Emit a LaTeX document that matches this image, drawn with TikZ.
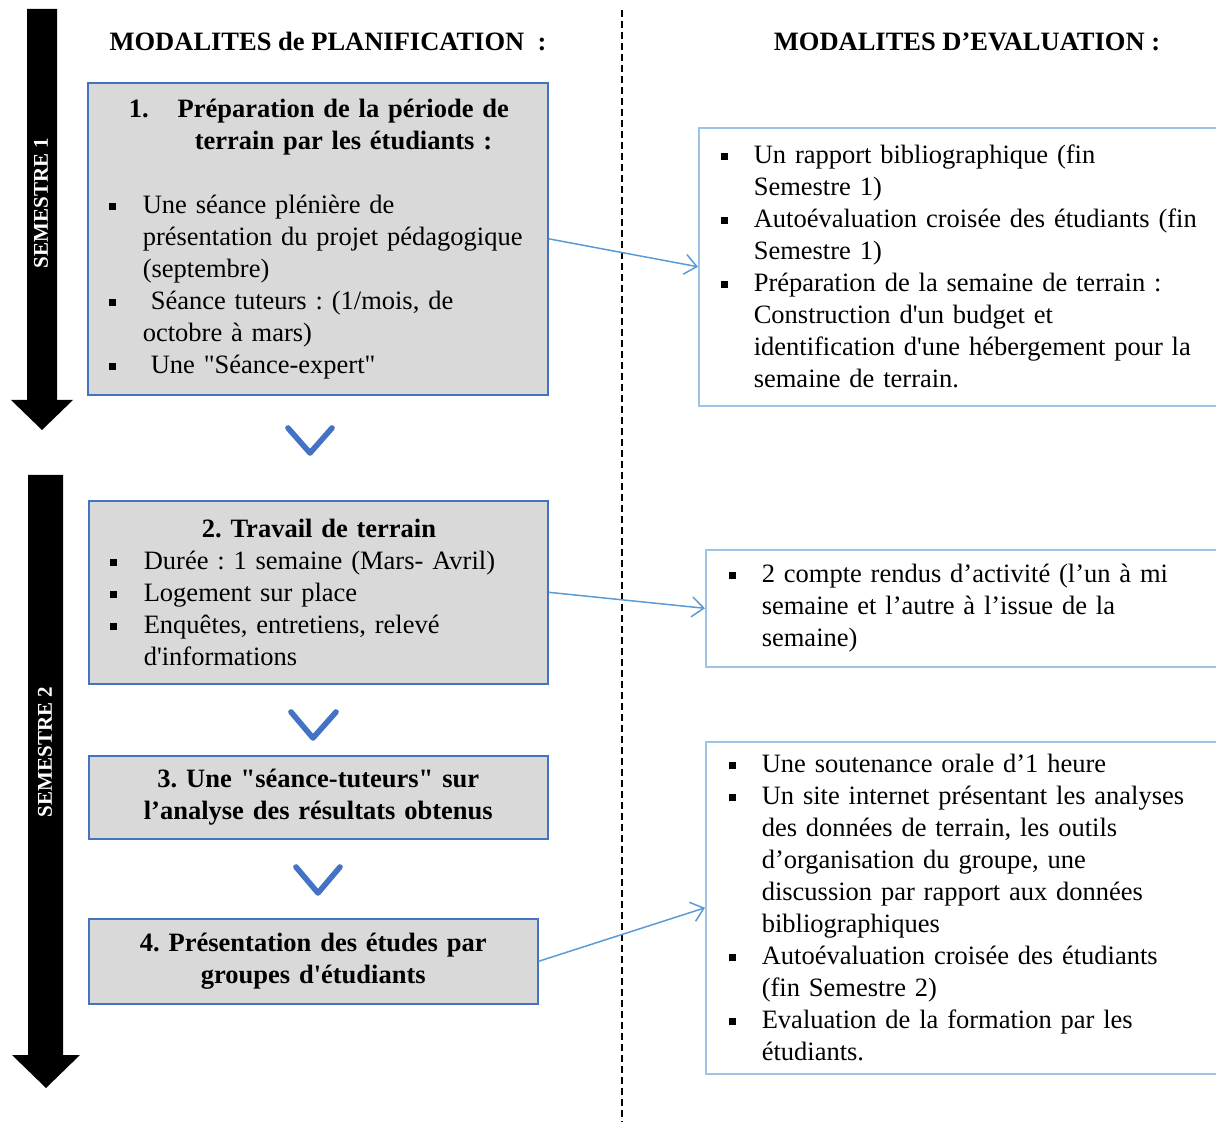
\documentclass[tikz,border=0pt]{standalone}
\usepackage{fontspec}
\setmainfont{Liberation Serif}[Ligatures=TeXOff]
\usetikzlibrary{arrows.meta, positioning, calc}

\definecolor{boxblue}{HTML}{4472C4}
\definecolor{boxgray}{HTML}{D9D9D9}
\definecolor{evalblue}{HTML}{9DC3E6}
\definecolor{linkblue}{HTML}{5B9BD5}

\newcommand{\blt}{\makebox[17pt][l]{\rule[0.13em]{3.6pt}{3.6pt}}}
\newcommand{\ind}{\hspace*{17pt}}
\newcommand{\bltr}{\makebox[16.5pt][l]{\rule[0.13em]{3.6pt}{3.6pt}}}
\newcommand{\indr}{\hspace*{16.5pt}}
\frenchspacing

\begin{document}
\begin{tikzpicture}[
  x=0.5pt, y=-0.5pt,
  every node/.style={font=\fontsize{13.25}{16}\selectfont},
  head/.style={font=\fontsize{13.25}{16}\selectfont\bfseries},
  plan/.style={draw=boxblue, line width=0.8pt, fill=boxgray, inner xsep=10.5pt, inner ysep=2pt, align=left, anchor=north west},
  eval/.style={draw=evalblue, line width=0.8pt, fill=white, inner ysep=2pt, align=left, anchor=north west},
  link/.style={draw=linkblue, line width=0.75pt, -{Straight Barb[length=6pt,width=10pt]}},
  chev/.style={draw=boxblue, line width=2.8pt, line cap=round, line join=round},
  sem/.style={rotate=90, text=white, font=\fontsize{10.5}{12}\selectfont\bfseries},
  sep/.style={draw, line width=0.9pt, dash pattern=on 3.5pt off 2pt}
  ]
  \useasboundingbox (0,0) rectangle (1216,1122);
  \clip (0,0) rectangle (1216,1122);

  % semesters
  \fill (27,9) -- (57,9) -- (57,400) -- (73,400) -- (42,430) -- (11,400) -- (27,400) -- cycle;
  \fill (28,475) -- (63,475) -- (63,1055) -- (80,1055) -- (46,1088) -- (12,1055) -- (28,1055) -- cycle;
  \node[sem] (sem1) at (41,203) {SEMESTRE 1};
  \node[sem] (sem2) at (45,752) {SEMESTRE 2};

  % column titles
  \node[head] (planif) at (328,42) {MODALITES de PLANIFICATION\ \ :};
  \node[head] (evaluation) at (967,42) {MODALITES D’EVALUATION :};
  \draw[sep] (622,10) -- (622,1122);

  % planning
  \node[plan, text width=209pt, minimum height=156pt] (prep) at (87,82) {%
    \hspace*{10pt}\textbf{1.}\hspace{14.5pt}\textbf{Préparation de la période de}\\
    \hspace*{43pt}\textbf{terrain par les étudiants :}\\[16pt]
    \blt Une séance plénière de\\
    \ind présentation du projet pédagogique\\
    \ind (septembre)\\
    \blt\hspace*{4pt}Séance tuteurs : (1/mois, de\\
    \ind octobre à mars)\\
    \blt\hspace*{4pt}Une "Séance-expert"};
  \node[plan, text width=208.5pt, minimum height=91.5pt] (terrain) at (88,500) {%
    \hspace*{46pt}\textbf{2. Travail de terrain}\\
    \blt Durée : 1 semaine (Mars- Avril)\\
    \blt Logement sur place\\
    \blt Enquêtes, entretiens, relevé\\
    \ind d'informations};
  \node[plan, align=center, text width=208.5pt, minimum height=41.5pt, head] (tuteurs) at (88,755)
    {3. Une "séance-tuteurs" sur\\ l’analyse des résultats obtenus};
  \node[plan, align=center, text width=203.5pt, minimum height=42.5pt, head] (presentation) at (88,918)
    {4. Présentation des études par\\ groupes d'étudiants};

  \draw[chev] (288,428) -- (310,453) -- (332,428);
  \draw[chev] (291,712) -- (313,738) -- (336,712);
  \draw[chev] (296,867) -- (318,893) -- (340,867);

  % evaluation
  \node[eval, inner xsep=11pt, text width=247pt, minimum height=139pt] (rapport) at (698,127) {%
    \bltr Un rapport bibliographique (fin\\
    \indr Semestre 1)\\
    \bltr Autoévaluation croisée des étudiants (fin\\
    \indr Semestre 1)\\
    \bltr Préparation de la semaine de terrain :\\
    \indr Construction d'un budget et\\
    \indr identification d'une hébergement pour la\\
    \indr semaine de terrain.};
  \node[eval, inner xsep=11.5pt, text width=242.5pt, minimum height=58.5pt] (comptes) at (705,549) {%
    \bltr 2 compte rendus d’activité (l’un à mi\\
    \indr semaine et l’autre à l’issue de la\\
    \indr semaine)};
  \node[eval, inner xsep=11.5pt, text width=242.5pt, minimum height=166pt] (soutenance) at (705,741) {%
    \bltr Une soutenance orale d’1 heure\\
    \bltr Un site internet présentant les analyses\\
    \indr des données de terrain, les outils\\
    \indr d’organisation du groupe, une\\
    \indr discussion par rapport aux données\\
    \indr bibliographiques\\
    \bltr Autoévaluation croisée des étudiants\\
    \indr (fin Semestre 2)\\
    \bltr Evaluation de la formation par les\\
    \indr étudiants.};

  \draw[link] (prep.east) -- (rapport.west);
  \draw[link] (terrain.east) -- (comptes.west);
  \draw[link] (presentation.east) -- (soutenance.west);
\end{tikzpicture}
\end{document}
